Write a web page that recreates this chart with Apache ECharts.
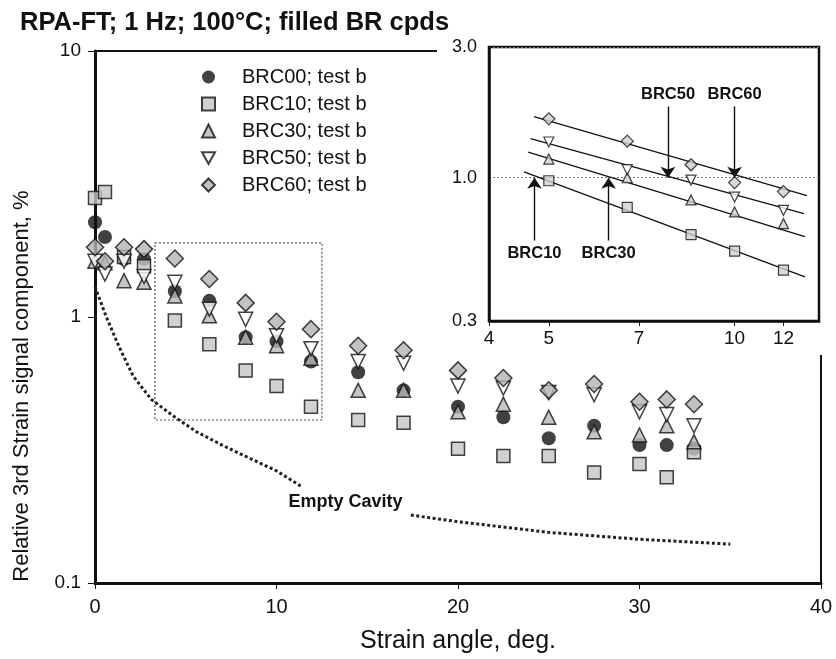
<!DOCTYPE html>
<html>
<head>
<meta charset="utf-8">
<script src="https://cdn.jsdelivr.net/npm/echarts@6/dist/echarts.min.js"></script>
<style>
html, body { margin: 0; padding: 0; background: #fff; }
#chart { width: 836px; height: 659px; }
</style>
</head>
<body>
<div id="chart"></div>
<script>
// Strain sweep, main plot (strain angle, deg.)
const strain = [0, 0.55, 1.6, 2.7, 4.4, 6.3, 8.3, 10, 11.9, 14.5, 17, 20, 22.5, 25, 27.5, 30, 31.5, 33];
// Relative 3rd harmonic strain component, %
const brc00 = [2.27, 2.0, 1.65, 1.65, 1.25, 1.15, 0.84, 0.81, 0.68, 0.62, 0.53, 0.46, 0.42, 0.35, 0.39, 0.33, 0.33, 0.32];
const brc10 = [2.8, 2.95, 1.68, 1.55, 0.97, 0.79, 0.63, 0.55, 0.46, 0.41, 0.40, 0.32, 0.30, 0.30, 0.26, 0.28, 0.25, 0.31];
const brc30 = [1.62, 1.6, 1.37, 1.35, 1.2, 1.01, 0.84, 0.78, 0.70, 0.53, 0.53, 0.44, 0.47, 0.42, 0.37, 0.36, 0.39, 0.34];
const brc50 = [1.62, 1.45, 1.62, 1.42, 1.35, 1.07, 0.98, 0.85, 0.76, 0.68, 0.67, 0.55, 0.54, 0.52, 0.51, 0.44, 0.43, 0.39];
const brc60 = [1.83, 1.62, 1.83, 1.8, 1.66, 1.39, 1.13, 0.96, 0.90, 0.78, 0.75, 0.63, 0.59, 0.53, 0.56, 0.48, 0.49, 0.47];

// Empty cavity reference curve ('-' leaves a gap for its label)
const cavityStrain = [0, 0.6, 1.3, 2.1, 3.1, 4.3, 5.6, 7.0, 8.0, 10, 11.4, 14, 17.4, 20, 25, 30, 35];
const cavityValue = [1.30, 1.01, 0.78, 0.60, 0.49, 0.425, 0.37, 0.33, 0.306, 0.264, 0.23, '-', 0.18, 0.17, 0.155, 0.146, 0.14];

// Inset: log-log view of the 5-12 deg. range
const insetStrain = [5, 6.7, 8.5, 10, 12];
const insetBrc10 = [0.975, 0.78, 0.62, 0.54, 0.46];
const insetBrc30 = [1.17, 1.0, 0.83, 0.75, 0.68];
const insetBrc50 = [1.35, 1.07, 0.98, 0.85, 0.76];
const insetBrc60 = [1.64, 1.36, 1.115, 0.96, 0.89];

// Power-law fit lines (end points)
const fitBrc10 = { strain: [4.56, 13.0], value: [1.05, 0.435] };
const fitBrc30 = { strain: [4.63, 13.0], value: [1.24, 0.61] };
const fitBrc50 = { strain: [4.67, 12.95], value: [1.39, 0.74] };
const fitBrc60 = { strain: [4.73, 13.1], value: [1.67, 0.86] };

// Arrow call-outs at the 1 % crossing
const calloutNames = ['BRC10', 'BRC30', 'BRC50', 'BRC60'];
const calloutStrain = [4.74, 6.25, 7.8, 10.0];
const calloutFrom = [0.59, 0.59, 1.82, 1.82];
const calloutTo = [1.0, 1.0, 1.0, 1.0];

const insetTicks = [4, 5, 7, 10, 12];
const seriesNames = ['BRC00; test b', 'BRC10; test b', 'BRC30; test b', 'BRC50; test b', 'BRC60; test b'];

const FONT = '"Liberation Sans", Arial, sans-serif';
const INK = '#111';
const lg = Math.log10;
const pairs = (xs, ys) => xs.map((x, i) => [x, ys[i]]);
const logPairs = (xs, ys) => xs.map((x, i) => [lg(x), ys[i]]);
const DOWN_TRIANGLE = 'path://M0,0L10,0L5,9Z';
const ARROW_HEAD = 'path://M0,0L8,0L4,14Z';

const markerStyles = [
  { symbol: 'circle', symbolSize: 14, itemStyle: { color: INK, borderWidth: 0 } },
  { symbol: 'rect', symbolSize: 13, itemStyle: { color: '#c6c6c6', borderColor: INK, borderWidth: 1.5 } },
  { symbol: 'triangle', symbolSize: 14, itemStyle: { color: '#b8b8b8', borderColor: INK, borderWidth: 1.5 } },
  { symbol: 'triangle', symbolSize: 14, symbolRotate: 180, itemStyle: { color: '#fff', borderColor: INK, borderWidth: 1.5 } },
  { symbol: 'diamond', symbolSize: 17, itemStyle: { color: '#b3b3b3', borderColor: INK, borderWidth: 1.5 } }
];
const mainValues = [brc00, brc10, brc30, brc50, brc60];

const mainSeries = mainValues.map((vals, i) => Object.assign({
  name: seriesNames[i],
  type: 'scatter',
  xAxisIndex: 0, yAxisIndex: 0,
  data: pairs(strain, vals),
  z: 2 + i * 0.01
}, markerStyles[i]));

const insetMarker = (i, size) => ({
  symbol: markerStyles[i].symbol,
  symbolSize: size,
  symbolRotate: markerStyles[i].symbolRotate || 0,
  itemStyle: Object.assign({}, markerStyles[i].itemStyle, { borderWidth: 1.2,
    color: i === 3 ? '#fff' : '#d0d0d0' })
});

const insetSets = [[1, insetBrc10, fitBrc10], [2, insetBrc30, fitBrc30], [3, insetBrc50, fitBrc50], [4, insetBrc60, fitBrc60]];
const insetSeries = [];
insetSets.forEach(([i, vals, fit]) => {
  insetSeries.push({
    type: 'line', xAxisIndex: 1, yAxisIndex: 1, z: 11,
    data: logPairs(fit.strain, fit.value),
    showSymbol: false, silent: true,
    lineStyle: { color: INK, width: 1.3 }
  });
  insetSeries.push(Object.assign({
    type: 'scatter', xAxisIndex: 1, yAxisIndex: 1, z: 12,
    data: logPairs(insetStrain, vals), silent: true
  }, insetMarker(i, i === 4 ? 12 : 10)));
});
insetSeries.push({
  type: 'line', xAxisIndex: 1, yAxisIndex: 1, z: 12, silent: true,
  data: logPairs(fitBrc10.strain, fitBrc10.value),
  showSymbol: false, lineStyle: { width: 0, opacity: 0 },
  markLine: {
    z: 20, silent: true, symbol: ['none', 'arrow'], symbolSize: 11,
    lineStyle: { color: INK, width: 1.4, type: 'solid' },
    label: { show: true, position: 'start', formatter: '{b}', color: INK,
      fontFamily: FONT, fontWeight: 'bold', fontSize: 16.5, distance: 4 },
    data: calloutNames.map((n, k) => [
      { name: n, coord: [lg(calloutStrain[k]), calloutFrom[k]] },
      { coord: [lg(calloutStrain[k]), calloutTo[k]], symbol: 'arrow', symbolSize: 11 }
    ])
  }
});

const option = {
  backgroundColor: '#fff',
  animation: false,
  title: {
    text: 'RPA-FT; 1 Hz; 100°C; filled BR cpds',
    left: 15, top: 5,
    textStyle: { fontFamily: FONT, fontWeight: 'bold', fontSize: 25.5, color: INK }
  },
  legend: {
    orient: 'vertical', left: 196, top: 62,
    itemWidth: 13, itemHeight: 13, itemGap: 7,
    data: seriesNames.map((n, i) => i === 3 ? { name: n, icon: DOWN_TRIANGLE } : { name: n }),
    textStyle: { fontFamily: FONT, fontSize: 20, color: INK, padding: [0, 0, 0, 22] }
  },
  grid: [
    { left: 95, top: 51, right: 15, bottom: 75, show: true, borderColor: INK, borderWidth: 2, z: 0 },
    { left: 489, top: 47, width: 330, height: 274, show: true, borderColor: INK, borderWidth: 2.5,
      backgroundColor: '#fff', z: 10 }
  ],
  xAxis: [
    {
      type: 'value', gridIndex: 0, min: 0, max: 40, interval: 10,
      name: 'Strain angle, deg.', nameLocation: 'middle', nameGap: 46,
      nameTextStyle: { fontFamily: FONT, fontSize: 25, color: INK },
      axisLine: { lineStyle: { color: INK, width: 3 } },
      axisTick: { show: true, length: 6, lineStyle: { color: INK } },
      axisLabel: { fontFamily: FONT, fontSize: 20, color: INK, margin: 14 },
      splitLine: { show: false }
    },
    {
      type: 'value', gridIndex: 1, min: lg(4), max: lg(13.7), z: 10,
      axisLine: { lineStyle: { color: INK, width: 2.5 } },
      axisTick: { show: true, inside: false, length: 5, customValues: insetTicks.map(lg), lineStyle: { color: INK } },
      axisLabel: { fontFamily: FONT, fontSize: 19, color: INK, margin: 8,
        customValues: insetTicks.map(lg), formatter: v => String(Math.round(Math.pow(10, v))) },
      splitLine: { show: false }
    }
  ],
  yAxis: [
    {
      type: 'log', gridIndex: 0, min: 0.1, max: 10, logBase: 10,
      axisLine: { lineStyle: { color: INK, width: 3 } },
      axisTick: { show: true, length: 7, lineStyle: { color: INK } },
      axisLabel: { fontFamily: FONT, fontSize: 19, color: INK, margin: 14, formatter: v => String(v) },
      splitLine: { show: false }
    },
    {
      type: 'log', gridIndex: 1, min: 0.3, max: 3, logBase: 10, z: 10,
      axisLine: { lineStyle: { color: INK, width: 2.5 } },
      axisTick: { show: false },
      axisLabel: { fontFamily: FONT, fontSize: 18, color: INK, margin: 12, formatter: v => v.toFixed(1) },
      splitLine: { show: true, lineStyle: { color: '#777', width: 1, type: [2, 2] } }
    }
  ],
  graphic: [
    { type: 'rect', z: 5, silent: true, shape: { x: 437, y: 28, width: 399, height: 327 }, style: { fill: '#fff' } },
    { type: 'text', z: 5, silent: true, x: 22, y: 386, rotation: Math.PI / 2,
      style: { text: 'Relative 3rd Strain signal component, %', fill: INK, font: '22px "Liberation Sans", Arial, sans-serif',
        textAlign: 'center', textVerticalAlign: 'middle' } }
  ],
  series: [
    {
      type: 'line', xAxisIndex: 0, yAxisIndex: 0, z: 1, silent: true,
      data: pairs(cavityStrain, cavityValue),
      showSymbol: false, connectNulls: false,
      lineStyle: { color: '#222', width: 3, type: [3, 2.5] },
      markPoint: {
        symbol: 'rect', symbolSize: 1, itemStyle: { color: 'transparent' },
        label: { show: true, position: 'inside', formatter: 'Empty Cavity', color: INK,
          fontFamily: FONT, fontWeight: 'bold', fontSize: 18 },
        data: [{ coord: [13.8, 0.202] }]
      },
      markArea: {
        silent: true,
        itemStyle: { color: 'transparent', borderColor: '#555', borderWidth: 1.2, borderType: [2, 2] },
        data: [[{ coord: [3.3, 1.9] }, { coord: [12.5, 0.41] }]]
      }
    }
  ].concat(mainSeries, insetSeries)
};

const chart = echarts.init(document.getElementById('chart'), null, { renderer: 'canvas' });
chart.setOption(option);
</script>
</body>
</html>
